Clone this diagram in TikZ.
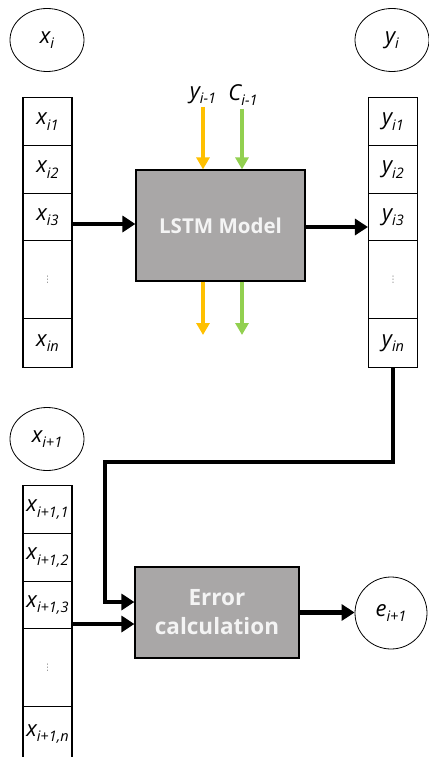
\documentclass[tikz,border=0pt]{standalone}
\usepackage{fontspec}
\setmainfont{Open Sans}
\newfontfamily\symfont{DejaVu Sans}
\usetikzlibrary{arrows.meta,shapes.geometric}

\definecolor{boxgray}{RGB}{169,167,167}
\definecolor{boxtext}{RGB}{244,244,244}
\definecolor{lstmorange}{RGB}{255,192,0}
\definecolor{lstmgreen}{RGB}{146,208,80}

\newcommand\varfont{\fontsize{22}{24}\selectfont\itshape}
\newcommand\sub[1]{\raisebox{-0.25em}{\fontsize{14.5}{14.5}\selectfont #1}}
\newcommand\vdotsmark{{\symfont\upshape\fontsize{9}{9}\selectfont\color{gray}⋮}}

\begin{document}
\begin{tikzpicture}[x=1pt,y=-1pt,
    cell/.style={draw,line width=1.1pt,minimum width=49pt,anchor=north,inner sep=0pt,font=\varfont},
    circ/.style={draw,ellipse,line width=0.8pt,minimum width=74pt,minimum height=63pt,inner sep=0pt,font=\varfont},
    block/.style={draw,line width=1.2pt,fill=boxgray,text=boxtext,align=center,inner sep=0pt},
    conn/.style={line width=4.5pt,-{Triangle[length=13pt,width=16pt]}},
    feed/.style={line width=4pt,-{Triangle[length=12pt,width=13pt]}},
    var/.style={font=\varfont,inner sep=1pt}]
  \useasboundingbox (0,0) rectangle (428,757);

  % input, output and next input vectors
  \node[circ] (xi) at (47,40) {x\sub{i}};
  \foreach \n/\t/\h/\lab in {1/97/48/{x\sub{i1}},2/145/48/{x\sub{i2}},3/193/47/{x\sub{i3}},4/240/78/{\vdotsmark},5/318/49/{x\sub{in}}}
    \node[cell,minimum height=\h pt] (xa\n) at (47.5,\t) {\lab};

  \node[circ] (yi) at (392,40) {y\sub{i}};
  \foreach \n/\t/\h/\lab in {1/97/48/{y\sub{i1}},2/145/48/{y\sub{i2}},3/193/47/{y\sub{i3}},4/240/78/{\vdotsmark},5/318/49/{y\sub{in}}}
    \node[cell,minimum height=\h pt] (ya\n) at (393,\t) {\lab};

  \node[circ] (xn) at (47,439) {x\sub{i+1}};
  \foreach \n/\t/\h/\lab in {1/485/48/{x\sub{i+1,1}},2/533/48/{x\sub{i+1,2}},3/581/47/{x\sub{i+1,3}},4/628/78/{\vdotsmark},5/706/55/{x\sub{i+1,n}}}
    \node[cell,minimum height=\h pt] (xb\n) at (47.5,\t) {\lab};

  % blocks
  \node[block,minimum width=169pt,minimum height=111pt,font=\fontsize{20.5}{24}\selectfont\bfseries] (lstm) at (220.5,225.5) {LSTM Model};
  \node[block,minimum width=164pt,minimum height=91pt,font=\fontsize{22.5}{29}\selectfont\bfseries] (err) at (217,612.5) {Error\\calculation};
  \node[circ,minimum width=72pt,minimum height=72pt] (e) at (391,613) {e\sub{i+1}};

  % previous state
  \node[var] (yprev) at (203,95) {y\sub{i-1}};
  \node[var] (cprev) at (243,95) {C\sub{i-1}};
  \coordinate (yout) at (203,335);
  \coordinate (cout) at (242,335);
  \draw[feed,lstmorange,shorten <=2pt] (yprev.south) -- (yprev.south |- lstm.north);
  \draw[feed,lstmgreen,shorten <=2pt] (cprev.south -| cout) -- (lstm.north -| cout);
  \draw[feed,lstmorange] (lstm.south -| yout) -- (yout);
  \draw[feed,lstmgreen] (lstm.south -| cout) -- (cout);

  % connectors
  \coordinate (bend) at (105,462);
  \draw[conn] ([yshift=1.5pt]lstm.west -| xa3.east) -- ([yshift=1.5pt]lstm.west);
  \draw[conn] ([yshift=-1.5pt]lstm.east) -- ([yshift=-1.5pt]lstm.east -| ya3.west);
  \draw[conn] (ya5.south) |- (bend) |- ([yshift=10.5pt]err.west);
  \draw[conn] ([yshift=-11.5pt]err.west -| xb3.east) -- ([yshift=-11.5pt]err.west);
  \draw[conn] (err.east) -- (err.east -| e.west);
\end{tikzpicture}
\end{document}
